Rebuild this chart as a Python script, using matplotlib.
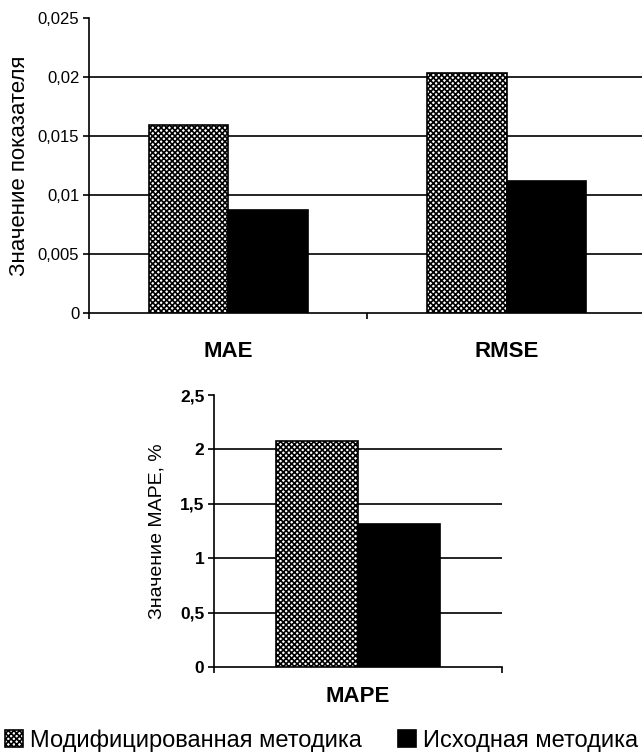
import matplotlib
matplotlib.use('Agg')
import matplotlib.pyplot as plt
from matplotlib.patches import Patch
import numpy as np

plt.rcParams['font.family'] = ['Liberation Sans', 'DejaVu Sans']
plt.rcParams['hatch.linewidth'] = 1.2

# data
top_categories = ['MAE', 'RMSE']
top_modified = [0.0159, 0.0203]
top_original = [0.0087, 0.0112]
top_ticks = [0, 0.005, 0.01, 0.015, 0.02, 0.025]
top_ticklabels = ['0', '0,005', '0,01', '0,015', '0,02', '0,025']

bottom_categories = ['MAPE']
bottom_modified = [2.08]
bottom_original = [1.31]
bottom_ticks = [0, 0.5, 1, 1.5, 2, 2.5]
bottom_ticklabels = ['0', '0,5', '1', '1,5', '2', '2,5']

legend_labels = ['Модифицированная методика', 'Исходная методика']

bar_w = 0.285
hatch_style = dict(facecolor='white', edgecolor='black', hatch='xxxxxx', linewidth=1.2)
solid_style = dict(facecolor='black', edgecolor='black', linewidth=1.2)


def draw_panel(ax, cats, mod, orig, ticks, ticklabels, tick_kw, cat_pad, ylabel, ylabel_size):
    x = np.arange(len(cats))
    ax.bar(x - bar_w / 2, mod, bar_w, zorder=3, **hatch_style)
    ax.bar(x + bar_w / 2, orig, bar_w, zorder=3, **solid_style)
    ax.set_xlim(-0.5, len(cats) - 0.5)
    ax.set_ylim(ticks[0], ticks[-1])
    ax.set_yticks(ticks)
    ax.set_yticklabels(ticklabels, **tick_kw)
    # grid lines, except at the top
    for t in ticks[1:-1]:
        ax.axhline(t, color='black', lw=1.2, zorder=1)
    ax.set_xticks(np.arange(len(cats) + 1) - 0.5, minor=True)
    ax.set_xticks(x)
    ax.set_xticklabels(cats, fontsize=16, fontweight='bold')
    ax.tick_params(axis='x', which='major', length=0, pad=cat_pad)
    ax.tick_params(axis='x', which='minor', length=4, width=1.2)
    ax.tick_params(axis='y', length=4, width=1.2, pad=3)
    for s in ['top', 'right']:
        ax.spines[s].set_visible(False)
    ax.spines['left'].set_linewidth(1.2)
    ax.spines['bottom'].set_linewidth(1.2)
    ax.set_ylabel(ylabel, fontsize=ylabel_size)


fig = plt.figure(figsize=(6.42, 7.54), dpi=100)

ax1 = fig.add_axes([0.1386, 0.5849, 0.8676, 0.3912])
draw_panel(ax1, top_categories, top_modified, top_original,
           top_ticks, top_ticklabels, dict(fontsize=12), 20,
           'Значение показателя', 16)
ax1.yaxis.set_label_coords(-0.106, 0.5)

ax2 = fig.add_axes([0.3333, 0.1154, 0.4486, 0.3607])
draw_panel(ax2, bottom_categories, bottom_modified, bottom_original,
           bottom_ticks, bottom_ticklabels, dict(fontsize=12.5, fontweight='bold'), 14,
           'Значение MAPE, %', 14)
ax2.yaxis.set_label_coords(-0.17, 0.5)

handles = [Patch(**hatch_style), Patch(**solid_style)]
fig.legend(handles, legend_labels, loc='lower left', bbox_to_anchor=(5 / 642, 0.003),
           ncol=2, frameon=False, fontsize=17, handlelength=0.75, handleheight=0.75,
           handletextpad=0.3, columnspacing=1.55, borderpad=0, borderaxespad=0)

fig.savefig('out.png', dpi=100)
